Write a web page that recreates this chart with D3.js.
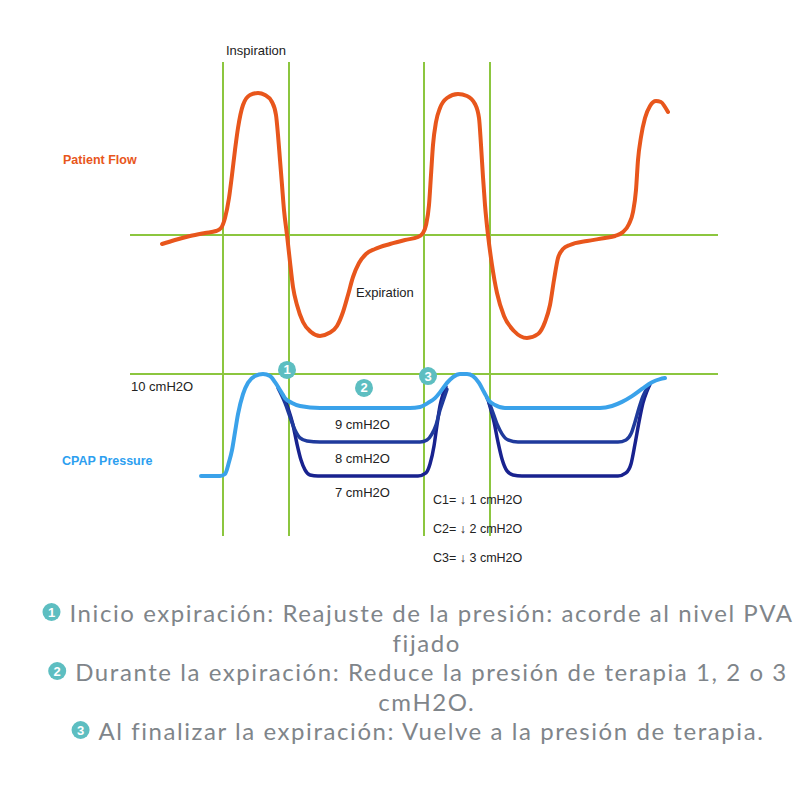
<!DOCTYPE html>
<html>
<head>
<meta charset="utf-8">
<script src="https://cdn.jsdelivr.net/npm/d3@7"></script>
<style>
html,body{margin:0;padding:0;background:#fff;}
svg{display:block;}
</style>
</head>
<body>
<svg id="chart" width="800" height="800"></svg>
<script>
// ---------- DATA ----------
// time in seconds, flow in L/min
const flowData = [
 [0.32,-4.5],[0.45,-2.5],[0.60,-0.5],[0.75,1],[0.86,2],[0.91,3.5],[0.95,8.5],[0.99,18.5],[1.02,30],[1.05,42.5],
 [1.08,53.5],[1.13,65],[1.20,70],[1.28,71],[1.35,70],[1.42,66.5],[1.46,60],[1.48,50],[1.50,37.5],[1.52,25],
 [1.54,12.5],[1.57,0],[1.60,-13.5],[1.63,-26],[1.67,-35],[1.73,-43.5],[1.81,-48.5],[1.90,-50.5],[1.99,-49],
 [2.07,-45.5],[2.13,-38.5],[2.18,-30],[2.23,-21],[2.29,-14],[2.36,-9.5],[2.45,-7],[2.60,-4.5],[2.75,-2.5],
 [2.88,-1],[2.93,1],[2.96,5],[2.99,15],[3.01,30],[3.03,45],[3.06,56.5],[3.10,63.5],[3.17,68.5],[3.28,70.5],
 [3.37,69.5],[3.45,65.5],[3.49,58.5],[3.51,45],[3.53,29],[3.55,15],[3.58,0],[3.62,-15],[3.67,-29],[3.74,-40.5],
 [3.84,-48],[3.97,-51.5],[4.08,-49.5],[4.15,-43.5],[4.20,-35],[4.24,-22.5],[4.28,-11.5],[4.33,-7],[4.40,-5],
 [4.57,-3],[4.75,-1.5],[4.85,-0.5],[4.93,1.5],[4.99,5.5],[5.03,11.5],[5.06,22.5],[5.08,37.5],[5.11,49],
 [5.15,58.5],[5.20,64.5],[5.26,67],[5.31,66.5],[5.35,64],[5.38,61.5]
];
// CPAP pressure (cmH2O), C1: -1 cmH2O during expiration
const pressureC1 = [
 [0.71,7.0],[0.90,7.0],[0.95,7.06],[0.99,7.41],[1.02,7.76],[1.05,8.29],[1.08,8.82],[1.13,9.41],[1.18,9.74],
 [1.25,9.94],[1.33,10],[1.40,9.94],[1.45,9.76],[1.50,9.53],[1.55,9.29],[1.62,9.15],[1.70,9.06],[1.90,9.0],
 [2.80,9.0],[2.90,9.03],[2.98,9.15],[3.05,9.29],[3.11,9.5],[3.17,9.74],[3.23,9.91],[3.30,10],[3.37,10],
 [3.43,9.94],[3.49,9.74],[3.54,9.47],[3.59,9.21],[3.65,9.09],[3.75,9.0],[4.70,9.0],[4.82,9.06],[4.92,9.18],
 [5.02,9.35],[5.12,9.56],[5.22,9.76],[5.30,9.85],[5.35,9.88]
];
// C2: -2 cmH2O
const pressureC2a = [
 [1.48,9.59],[1.55,9.15],[1.60,8.74],[1.65,8.35],[1.70,8.12],[1.77,8.03],[1.90,8.0],[2.90,8.0],[2.97,8.06],
 [3.02,8.24],[3.06,8.5],[3.10,8.94],[3.14,9.29],[3.17,9.55]
];
const pressureC2b = [
 [3.57,9.3],[3.62,8.94],[3.67,8.53],[3.72,8.24],[3.78,8.06],[3.88,8.0],[4.88,8.0],[4.96,8.06],[5.01,8.24],
 [5.05,8.59],[5.09,9.0],[5.13,9.35],[5.18,9.62]
];
// C3: -3 cmH2O
const pressureC3a = [
 [1.53,9.38],[1.58,9.0],[1.63,8.5],[1.67,7.94],[1.71,7.47],[1.75,7.18],[1.80,7.03],[1.88,7.0],[2.88,7.0],
 [2.96,7.09],[3.00,7.35],[3.04,7.88],[3.07,8.5],[3.10,9.06],[3.13,9.4],[3.16,9.62]
];
const pressureC3b = [
 [3.59,9.15],[3.64,8.59],[3.68,8.0],[3.72,7.5],[3.77,7.15],[3.83,7.03],[3.92,7.0],[4.88,7.0],[4.96,7.09],
 [5.01,7.35],[5.05,7.94],[5.09,8.59],[5.13,9.15],[5.17,9.5],[5.20,9.7]
];
const phaseTimes = [0.93, 1.59, 2.94, 3.60];
const levelLabels = [{p:9, text:"9 cmH2O"},{p:8, text:"8 cmH2O"},{p:7, text:"7 cmH2O"}];
const cLabels = ["C1= \u2193 1 cmH2O","C2= \u2193 2 cmH2O","C3= \u2193 3 cmH2O"];
const markers = [{n:"1", t:1.57, p:10.12},{n:"2", t:2.34, p:9.59},{n:"3", t:2.98, p:9.94}];
const notes = [
 {icon:"1", lines:["Inicio expiración: Reajuste de la presión: acorde al nivel PVA","fijado"]},
 {icon:"2", lines:["Durante la expiración: Reduce la presión de terapia 1, 2 o 3","cmH2O."]},
 {icon:"3", lines:["Al finalizar la expiración: Vuelve a la presión de terapia."]}
];

// ---------- CHART ----------
const svg = d3.select("#chart");
const x = d3.scaleLinear().domain([0, 5.88]).range([130, 718]);
const yFlow = d3.scaleLinear().domain([-80, 80]).range([395, 75]);
const yP = d3.scaleLinear().domain([7, 10]).range([476, 374]);

const GREEN = "#8cc63f", ORANGE = "#e8561c", LIGHT = "#3aa2ea", MID = "#1f3a9c", DARK = "#18228f", TEAL = "#5dbec1";
const font = "'Liberation Sans', Arial, sans-serif";

// grid lines
svg.selectAll("line.v").data(phaseTimes).join("line")
  .attr("x1", d => x(d)).attr("x2", d => x(d)).attr("y1", 62).attr("y2", 536)
  .attr("stroke", GREEN).attr("stroke-width", 2);
svg.append("line").attr("x1", x(0)).attr("x2", x(5.88)).attr("y1", yFlow(0)).attr("y2", yFlow(0))
  .attr("stroke", GREEN).attr("stroke-width", 2);
svg.append("line").attr("x1", x(0)).attr("x2", x(5.88)).attr("y1", yP(10)).attr("y2", yP(10))
  .attr("stroke", GREEN).attr("stroke-width", 2);

const flowLine = d3.line().x(d => x(d[0])).y(d => yFlow(d[1])).curve(d3.curveMonotoneX);
const pLine = d3.line().x(d => x(d[0])).y(d => yP(d[1])).curve(d3.curveMonotoneX);

svg.append("path").attr("d", flowLine(flowData)).attr("fill","none")
  .attr("stroke", ORANGE).attr("stroke-width", 4).attr("stroke-linecap","round").attr("stroke-linejoin","round");

[[pressureC3a, DARK],[pressureC3b, DARK],[pressureC2a, MID],[pressureC2b, MID]].forEach(([d,c]) => {
  svg.append("path").attr("d", pLine(d)).attr("fill","none")
    .attr("stroke", c).attr("stroke-width", 3.5).attr("stroke-linecap","round");
});
svg.append("path").attr("d", pLine(pressureC1)).attr("fill","none")
  .attr("stroke", LIGHT).attr("stroke-width", 4).attr("stroke-linecap","round");

// texts
const txt = (xx, yy, s, opts={}) => svg.append("text").attr("x", xx).attr("y", yy).text(s)
  .attr("font-family", font).attr("font-size", opts.size || 12.5).attr("fill", opts.fill || "#222")
  .attr("font-weight", opts.weight || "normal").attr("text-anchor", opts.anchor || "start");

txt((x(phaseTimes[0]) + x(phaseTimes[1]))/2, 55, "Inspiration", {anchor:"middle", size:13});
txt(356, 297, "Expiration", {size:13});
txt(63, 164, "Patient Flow", {fill:ORANGE, weight:"bold", size:12.5});
txt(131, yP(10) + 17, "10 cmH2O", {size:13});
txt(62, 465, "CPAP Pressure", {fill:"#2d9ff0", weight:"bold", size:12.5});
levelLabels.forEach(l => txt(335, yP(l.p) + 21, l.text, {size:13}));
cLabels.forEach((s,i) => txt(433, 504 + i*29, s, {size:12.5}));

const mk = svg.selectAll("g.mk").data(markers).join("g")
  .attr("transform", d => `translate(${x(d.t)},${yP(d.p)})`);
mk.append("circle").attr("r", 9).attr("fill", TEAL);
mk.append("text").text(d => d.n).attr("text-anchor","middle").attr("dy", 4.5)
  .attr("font-family", font).attr("font-weight","bold").attr("font-size", 13).attr("fill","#fff");

// notes
const noteFont = "Lato, 'Open Sans', sans-serif";
const noteColor = "#7f858a";
const noteSize = 24;
// letter spacing chosen so the first line spans its width in the original
const probe = svg.append("text").text(notes[0].lines[0])
  .attr("font-family", noteFont).attr("font-size", noteSize);
const pw = probe.node().getComputedTextLength();
probe.remove();
const ls = (724 - pw) / (notes[0].lines[0].length);
let baseline = 622;
notes.forEach(n => {
  n.lines.forEach((line, li) => {
    const t = svg.append("text").attr("y", baseline).text(line)
      .attr("font-family", noteFont).attr("font-size", noteSize).attr("fill", noteColor)
      .attr("letter-spacing", ls);
    const w = t.node().getComputedTextLength();
    if (li === 0) {
      const total = w + 27;
      const start = 418 - total/2;
      t.attr("x", start + 27);
      const g = svg.append("g").attr("transform", `translate(${start + 9},${baseline - 10})`);
      g.append("circle").attr("r", 9).attr("fill", TEAL);
      g.append("text").text(n.icon).attr("text-anchor","middle").attr("dy", 4.5)
        .attr("font-family", font).attr("font-weight","bold").attr("font-size", 13).attr("fill","#fff");
    } else {
      t.attr("x", 426 + ls/2).attr("text-anchor","middle");
    }
    baseline += 29.5;
  });
});
</script>
</body>
</html>
